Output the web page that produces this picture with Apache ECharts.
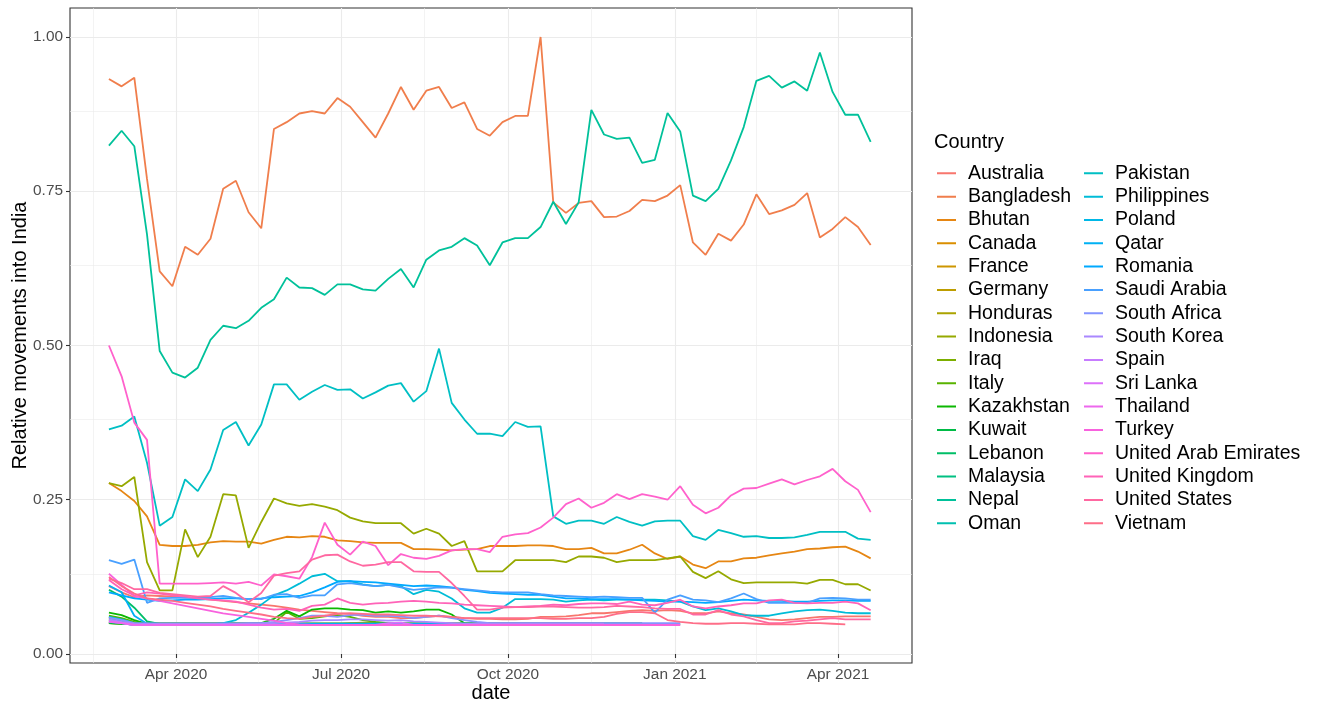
<!DOCTYPE html>
<html lang="en">
<head>
<meta charset="UTF-8">
<script src="https://cdn.jsdelivr.net/npm/echarts@6/dist/echarts.min.js"></script>
<title>Relative movements into India</title>
<style>
  html, body { margin: 0; padding: 0; background: #fff; }
  #main { width: 1323px; height: 702px; }
</style>
</head>
<body>
<div id="main"></div>
<script type="text/javascript">
// weekly observations, first week 2020-02-24, 61 weeks
var firstWeek = Date.UTC(2020, 1, 24);
var dates = [];
for (var w = 0; w < 61; w++) dates.push(firstWeek + w * 7 * 86400000);

var countries = ['Australia', 'Bangladesh', 'Bhutan', 'Canada', 'France', 'Germany', 'Honduras', 'Indonesia',
  'Iraq', 'Italy', 'Kazakhstan', 'Kuwait', 'Lebanon', 'Malaysia', 'Nepal', 'Oman',
  'Pakistan', 'Philippines', 'Poland', 'Qatar', 'Romania', 'Saudi Arabia', 'South Africa', 'South Korea',
  'Spain', 'Sri Lanka', 'Thailand', 'Turkey', 'United Arab Emirates', 'United Kingdom', 'United States', 'Vietnam'];

var australia = [0.110,0.100,0.092,0.095,0.094,0.093,0.092,0.090,0.088,0.086,0.084,0.082,0.080,0.078,0.075,0.072,0.070,0.068,0.066,
  0.065,0.062,0.060,0.060,0.058,0.058,0.060,0.062,0.060,0.058,0.057,0.057,0.056,0.056,0.057,0.060,0.060,0.061,0.063,0.066,0.066,0.068,
  0.070,0.071,0.070,0.071,0.070,0.066,0.066,0.069,0.066,0.064,0.060,0.056,0.055,0.056,0.058,0.060,0.060,0.061,0.061,0.061];
var bangladesh = [0.932,0.920,0.934,0.770,0.620,0.596,0.660,0.647,0.673,0.754,0.767,0.716,0.690,0.851,0.862,0.876,0.880,0.876,0.901,0.887,
  0.862,0.837,0.876,0.919,0.882,0.913,0.919,0.885,0.894,0.851,0.840,0.862,0.872,0.872,1.000,0.732,0.715,0.731,0.734,0.708,
  0.709,0.718,0.736,0.734,0.743,0.760,0.667,0.647,0.681,0.670,0.696,0.745,0.713,0.719,0.728,0.747,0.675,0.689,0.708,0.692,0.663];
var bhutan = [0.277,0.264,0.248,0.223,0.177,0.175,0.175,0.177,0.181,0.183,0.182,0.182,0.179,0.185,0.190,0.189,0.191,0.190,0.184,
  0.183,0.181,0.180,0.180,0.180,0.170,0.170,0.169,0.168,0.169,0.170,0.175,0.175,0.175,0.176,0.176,0.175,0.170,0.170,0.172,0.163,0.163,
  0.169,0.177,0.163,0.154,0.158,0.145,0.139,0.150,0.150,0.155,0.156,0.160,0.163,0.166,0.170,0.171,0.173,0.174,0.166,0.155];
var canada = [0.058,0.055,0.050,0.049,0.049,0.049,0.049,0.049,0.049,0.049,0.049,0.049,0.049,0.049,0.049,0.049,0.049,0.049,0.049,0.049,
  0.048,0.048,0.048,0.049,0.049,0.049,0.049,0.049,0.049,0.049,0.049,0.049,0.049,0.049,0.049,0.049,0.049,0.049,0.049,0.049,0.049,0.049,0.049];
var france = [0.055,0.052,0.049,0.049,0.049,0.049,0.049,0.049,0.049,0.049,0.049,0.049,0.049,0.049,0.049,0.049,0.049,0.049,0.049,0.049,
  0.049,0.049,0.049,0.049,0.049,0.049,0.049,0.049,0.049,0.049,0.049,0.049,0.049,0.049,0.049,0.049,0.049,0.049,0.049,0.049];
var germany = [0.052,0.050,0.049,0.048,0.048,0.048,0.048,0.048,0.048,0.048,0.048,0.048,0.048,0.048,0.048,0.048,0.048,0.048,0.048,0.050,
  0.051,0.051,0.049,0.048,0.048,0.048,0.048,0.048,0.048,0.048,0.048,0.048,0.048,0.048,0.048,0.048,0.048,0.048,0.048,0.048,0.048,0.048,0.048];
var honduras = [0.050,0.049,0.049,0.049,0.049,0.049,0.049,0.049,0.049,0.049,0.049,0.049,0.049,0.049,0.049,0.049,0.049,0.049,0.049,0.049,
  0.049,0.049,0.049,0.049,0.049,0.049,0.049,0.049,0.049,0.049];
var indonesia = [0.277,0.272,0.287,0.149,0.103,0.103,0.202,0.157,0.190,0.259,0.257,0.172,0.214,0.252,0.244,0.240,0.243,0.239,0.233,
  0.221,0.215,0.212,0.212,0.212,0.195,0.203,0.195,0.175,0.183,0.134,0.134,0.134,0.152,0.152,0.152,0.152,0.149,0.158,0.158,0.156,0.149,
  0.152,0.152,0.152,0.155,0.158,0.133,0.123,0.134,0.121,0.115,0.116,0.116,0.116,0.116,0.114,0.120,0.120,0.113,0.113,0.103];
var iraq = [0.050,0.049,0.048,0.048,0.048,0.048,0.048,0.048,0.048,0.048,0.048,0.048,0.048,0.048,0.048,0.048,0.048,0.048,0.048,0.048,
  0.048,0.048,0.048,0.048,0.048,0.048,0.048,0.048,0.048,0.048,0.048,0.048,0.048,0.048,0.048,0.048,0.048,0.048,0.048,0.048,0.048,0.048,0.048];
var italy = [0.062,0.058,0.052,0.049,0.049,0.049,0.049,0.049,0.049,0.049,0.049,0.049,0.049,0.050,0.068,0.057,0.058,0.061,0.063,0.060,
  0.055,0.052,0.050,0.049,0.049,0.049,0.049,0.049,0.049,0.049,0.049,0.049,0.049,0.049,0.049,0.049,0.049,0.049,0.049,0.049,0.049,0.049,0.049];
var kazakhstan = [0.067,0.063,0.055,0.049,0.049,0.049,0.049,0.049,0.049,0.049,0.049,0.049,0.050,0.057,0.070,0.061,0.072,0.074,0.074,
  0.072,0.071,0.067,0.069,0.067,0.069,0.072,0.072,0.064,0.050,0.049,0.049,0.049,0.049,0.049,0.049,0.049,0.049,0.049,0.049,0.049,0.049,0.049,0.049];
var kuwait = [0.050,0.049,0.048,0.048,0.048,0.048,0.048,0.048,0.048,0.048,0.048,0.048,0.048,0.048,0.048,0.048,0.048,0.048,0.048,0.048,
  0.048,0.048,0.048,0.048,0.048,0.048,0.048,0.048,0.048,0.048,0.048,0.048,0.048,0.048,0.048,0.048,0.048,0.048,0.048,0.048,
  0.048,0.048,0.048,0.048,0.048,0.048];
var lebanon = [0.104,0.093,0.075,0.053,0.049,0.049,0.049,0.049,0.049,0.049,0.049,0.049,0.049,0.049,0.049,0.049,0.049,0.049,0.049,0.049,
  0.049,0.049,0.049,0.049,0.049,0.049,0.049,0.049,0.049,0.049,0.049,0.049,0.049,0.049,0.049,0.049,0.049,0.049,0.049,0.049,0.049,0.049,0.049];
var malaysia = [0.060,0.055,0.049,0.048,0.048,0.048,0.048,0.048,0.048,0.048,0.048,0.048,0.048,0.048,0.048,0.048,0.048,0.048,0.048,0.048,
  0.048,0.048,0.048,0.048,0.048,0.048,0.048,0.048,0.048,0.048,0.048,0.048,0.048,0.048,0.048,0.048,0.048,0.048,0.048,0.048,0.048,0.048,0.048];
var nepal = [0.824,0.848,0.823,0.680,0.491,0.456,0.448,0.464,0.509,0.532,0.528,0.540,0.561,0.575,0.610,0.594,0.593,0.582,0.599,0.599,
  0.591,0.589,0.608,0.624,0.594,0.639,0.654,0.660,0.674,0.662,0.630,0.667,0.674,0.674,0.692,0.733,0.697,0.732,0.882,0.842,
  0.835,0.837,0.796,0.801,0.877,0.847,0.743,0.734,0.754,0.800,0.854,0.929,0.937,0.918,0.928,0.913,0.975,0.911,0.874,0.874,0.830];
var oman = [0.056,0.052,0.048,0.048,0.048,0.048,0.048,0.048,0.048,0.048,0.048,0.048,0.048,0.048,0.048,0.048,0.048,0.048,0.048,0.048,
  0.048,0.048,0.048,0.048,0.048,0.048,0.048,0.048,0.048,0.048,0.048,0.048,0.048,0.048,0.048,0.048,0.048,0.048,0.048,0.048,0.048,0.048,0.048];
var pakistan = [0.364,0.370,0.385,0.310,0.208,0.222,0.283,0.264,0.299,0.363,0.376,0.338,0.372,0.437,0.437,0.412,0.425,0.436,0.428,
  0.429,0.414,0.424,0.435,0.439,0.409,0.426,0.495,0.407,0.380,0.357,0.357,0.353,0.376,0.368,0.369,0.223,0.211,0.216,0.216,0.211,0.222,
  0.214,0.208,0.215,0.216,0.216,0.191,0.185,0.201,0.196,0.190,0.191,0.188,0.188,0.189,0.193,0.198,0.198,0.198,0.187,0.185];
var philippines = [0.060,0.056,0.050,0.049,0.048,0.048,0.048,0.048,0.048,0.050,0.055,0.067,0.080,0.095,0.103,0.114,0.126,0.130,0.118,
  0.118,0.113,0.110,0.112,0.110,0.097,0.104,0.101,0.090,0.074,0.067,0.067,0.075,0.089,0.089,0.089,0.088,0.085,0.087,0.088,0.087,0.088,
  0.088,0.088,0.088,0.087,0.085,0.077,0.071,0.074,0.069,0.063,0.062,0.062,0.066,0.069,0.071,0.072,0.070,0.067,0.066,0.066];
var poland = [0.052,0.050,0.047,0.047,0.047,0.047,0.047,0.047,0.047,0.047,0.047,0.047,0.047,0.047,0.047,0.047,0.047,0.047,0.047,0.047,
  0.047,0.047,0.047,0.047,0.047,0.047,0.047,0.047,0.047,0.047,0.047,0.047,0.047,0.047,0.047,0.047];
var qatar = [0.111,0.100,0.062,0.049,0.049,0.049,0.049,0.049,0.049,0.049,0.049,0.049,0.049,0.049,0.049,0.049,0.049,0.049,0.049,0.049,
  0.049,0.049,0.049,0.049,0.049,0.049,0.049,0.049,0.049,0.049,0.049,0.049,0.049,0.049,0.049,0.049,0.049,0.049,0.049,0.049,0.049,0.049,0.049];
var romania = [0.100,0.095,0.090,0.088,0.086,0.087,0.088,0.088,0.089,0.090,0.090,0.089,0.090,0.092,0.093,0.094,0.100,0.108,0.117,
  0.118,0.117,0.116,0.114,0.112,0.110,0.111,0.110,0.108,0.104,0.102,0.099,0.098,0.097,0.096,0.096,0.093,0.090,0.090,0.089,0.089,0.089,
  0.088,0.087,0.086,0.085,0.085,0.084,0.083,0.084,0.086,0.088,0.087,0.086,0.086,0.085,0.085,0.086,0.087,0.087,0.086,0.086];
var saudiArabia = [0.152,0.146,0.153,0.083,0.090,0.091,0.091,0.091,0.092,0.094,0.091,0.089,0.089,0.096,0.097,0.091,0.095,0.095,0.113,
  0.115,0.112,0.110,0.112,0.108,0.104,0.106,0.108,0.107,0.105,0.103,0.101,0.100,0.100,0.100,0.097,0.095,0.094,0.093,0.092,0.093,0.092,
  0.091,0.091,0.067,0.088,0.095,0.088,0.087,0.084,0.090,0.098,0.089,0.083,0.083,0.083,0.083,0.090,0.091,0.090,0.088,0.088];
var southAfrica = [0.059,0.055,0.050,0.049,0.049,0.049,0.049,0.049,0.049,0.049,0.049,0.050,0.050,0.052,0.055,0.058,0.062,0.062,0.060,0.063,
  0.064,0.062,0.062,0.061,0.058,0.060,0.062,0.058,0.055,0.052,0.050,0.050,0.050,0.050,0.050,0.050,0.050,0.050,0.050,0.050,
  0.050,0.050,0.050,0.050,0.050,0.050];
var southKorea = [0.056,0.052,0.049,0.049,0.049,0.049,0.049,0.049,0.049,0.049,0.049,0.049,0.049,0.050,0.051,0.052,0.054,0.055,0.055,0.056,
  0.056,0.055,0.054,0.055,0.053,0.052,0.051,0.050,0.049,0.049,0.049,0.049,0.049,0.049,0.049,0.049,0.049,0.049,0.049,0.049];
var spain = [0.054,0.051,0.047,0.047,0.047,0.047,0.047,0.047,0.047,0.047,0.047,0.047,0.047,0.047,0.047,0.047,0.047,0.047,0.047,0.047,
  0.047,0.047,0.047,0.047,0.047,0.047,0.047,0.047,0.047,0.047];
var sriLanka = [0.053,0.050,0.047,0.047,0.047,0.047,0.047,0.047,0.047,0.047,0.047,0.047,0.047,0.047,0.047,0.047,0.047,0.047,0.047,0.047,
  0.047,0.047,0.050,0.051,0.047,0.047,0.047,0.047,0.047,0.047];
var thailand = [0.052,0.050,0.047,0.047,0.047,0.047,0.047,0.047,0.047,0.047,0.047,0.047,0.047,0.047,0.047,0.047,0.047,0.047,0.047,0.047,
  0.047,0.047,0.047,0.047,0.047,0.047,0.047,0.047,0.047,0.047];
var turkey = [0.130,0.112,0.094,0.090,0.086,0.082,0.078,0.074,0.070,0.066,0.063,0.060,0.057,0.054,0.050,0.048,0.047,0.047,0.047,0.047,
  0.047,0.047,0.047,0.047,0.047,0.047,0.047,0.047,0.047,0.047,0.047,0.047,0.047,0.047,0.047,0.047,0.047,0.047,0.047,0.047,
  0.047,0.047,0.047,0.047,0.047,0.047];
var uae = [0.500,0.450,0.375,0.347,0.114,0.114,0.114,0.114,0.115,0.116,0.114,0.117,0.111,0.129,0.126,0.122,0.157,0.213,0.177,
  0.161,0.182,0.175,0.144,0.162,0.156,0.154,0.159,0.168,0.170,0.170,0.165,0.190,0.194,0.196,0.205,0.221,0.243,0.252,0.237,0.245,0.259,
  0.251,0.259,0.255,0.250,0.272,0.242,0.228,0.237,0.257,0.268,0.269,0.276,0.283,0.275,0.282,0.288,0.300,0.280,0.266,0.230];
var uk = [0.120,0.105,0.095,0.100,0.098,0.095,0.093,0.090,0.088,0.087,0.085,0.080,0.075,0.072,0.073,0.070,0.078,0.080,0.090,
  0.083,0.080,0.082,0.083,0.085,0.086,0.085,0.083,0.082,0.080,0.079,0.078,0.077,0.076,0.077,0.078,0.080,0.079,0.081,0.082,0.082,0.081,
  0.085,0.080,0.079,0.083,0.088,0.077,0.074,0.077,0.079,0.082,0.082,0.087,0.088,0.083,0.082,0.083,0.083,0.085,0.082,0.071];
var us = [0.122,0.115,0.105,0.105,0.099,0.097,0.095,0.093,0.094,0.110,0.099,0.084,0.099,0.127,0.131,0.134,0.153,0.160,0.161,
  0.150,0.143,0.145,0.149,0.149,0.134,0.133,0.133,0.115,0.094,0.072,0.072,0.075,0.076,0.076,0.077,0.077,0.076,0.075,0.075,0.076,0.078,
  0.077,0.076,0.074,0.073,0.073,0.064,0.064,0.071,0.064,0.061,0.055,0.050,0.050,0.053,0.054,0.056,0.058,0.056,0.056,0.056];
var vietnam = [0.125,0.110,0.098,0.090,0.088,0.086,0.083,0.080,0.077,0.073,0.070,0.067,0.064,0.060,0.058,0.057,0.060,0.062,0.065,
  0.066,0.065,0.064,0.064,0.063,0.062,0.062,0.061,0.060,0.058,0.058,0.058,0.058,0.058,0.058,0.058,0.057,0.057,0.058,0.058,0.060,0.065,
  0.068,0.068,0.066,0.055,0.052,0.050,0.049,0.049,0.050,0.050,0.049,0.048,0.048,0.048,0.050,0.050,0.049,0.048];

var values = [australia, bangladesh, bhutan, canada, france, germany, honduras, indonesia,
  iraq, italy, kazakhstan, kuwait, lebanon, malaysia, nepal, oman,
  pakistan, philippines, poland, qatar, romania, saudiArabia, southAfrica, southKorea,
  spain, sriLanka, thailand, turkey, uae, uk, us, vietnam];

var yTicks = [0, 0.25, 0.5, 0.75, 1];
var yMinor = [0.125, 0.375, 0.625, 0.875];
var xTicks = [Date.UTC(2020, 3, 1), Date.UTC(2020, 6, 1), Date.UTC(2020, 9, 1), Date.UTC(2021, 0, 1), Date.UTC(2021, 3, 1)];
var xMinor = [Date.UTC(2020, 1, 15, 12), Date.UTC(2020, 4, 16, 12), Date.UTC(2020, 7, 16), Date.UTC(2020, 10, 16), Date.UTC(2021, 1, 15)];
var monthNames = ['Jan', 'Feb', 'Mar', 'Apr', 'May', 'Jun', 'Jul', 'Aug', 'Sep', 'Oct', 'Nov', 'Dec'];

// ggplot2 default hue palette (polar LUV, c = 100, l = 65)
function hcl(h, c, l) {
    var WY = 100, Wu = 0.1978398, Wv = 0.4683363;
    var hr = h * Math.PI / 180;
    var U = c * Math.cos(hr), V = c * Math.sin(hr);
    var Y = WY * (l > 7.999592 ? Math.pow((l + 16) / 116, 3) : l / 903.3);
    var u = U / (13 * l) + Wu, v = V / (13 * l) + Wv;
    var X = 9 * Y * u / (4 * v);
    var Z = -X / 3 - 5 * Y + 3 * Y / v;
    function g(t) { return t > 0.00304 ? 1.055 * Math.pow(t, 1 / 2.4) - 0.055 : 12.92 * t; }
    function hx(t) {
        var n = Math.round(Math.max(0, Math.min(1, t)) * 255);
        return (n < 16 ? '0' : '') + n.toString(16);
    }
    var r = g((3.240479 * X - 1.537150 * Y - 0.498535 * Z) / WY);
    var gg = g((-0.969256 * X + 1.875992 * Y + 0.041556 * Z) / WY);
    var b = g((0.055648 * X - 0.204043 * Y + 1.057311 * Z) / WY);
    return '#' + hx(r) + hx(gg) + hx(b);
}
var palette = countries.map(function (c, i) { return hcl(15 + i * 360 / 32, 100, 65); });

var font = 'Liberation Sans, Arial, sans-serif';
var myChart = echarts.init(document.getElementById('main'), null, {renderer: 'canvas'});

// panel grid lines, drawn under the data
var gridLines = [];
yMinor.forEach(function (v) { gridLines.push({yAxis: v, lineStyle: {color: '#EBEBEB', width: 0.6, type: 'solid'}}); });
xMinor.forEach(function (v) { gridLines.push({xAxis: v, lineStyle: {color: '#EBEBEB', width: 0.6, type: 'solid'}}); });
yTicks.forEach(function (v) { gridLines.push({yAxis: v, lineStyle: {color: '#EBEBEB', width: 1.1, type: 'solid'}}); });
xTicks.forEach(function (v) { gridLines.push({xAxis: v, lineStyle: {color: '#EBEBEB', width: 1.1, type: 'solid'}}); });

var series = [{
    name: '_grid',
    type: 'line',
    data: [[dates[0], null]],
    silent: true,
    z: 0,
    symbol: 'none',
    markLine: {silent: true, z: 0, symbol: 'none', label: {show: false}, animation: false, data: gridLines}
}];
countries.forEach(function (name, i) {
    series.push({
        name: name,
        type: 'line',
        z: 3,
        color: palette[i],
        data: values[i].map(function (v, k) { return [dates[k], v]; }),
        showSymbol: false,
        symbol: 'none',
        lineStyle: {width: 1.8},
        emphasis: {disabled: true},
        animation: false
    });
});

var legendBase = {
    orient: 'vertical',
    top: 163.3,
    padding: 0,
    itemGap: 3.33,
    itemWidth: 26,
    itemHeight: 2,
    icon: 'path://M0,0H19V2H0ZM26,0L26,2',
    selectedMode: false,
    textStyle: {fontSize: 19.5, color: '#000', fontFamily: font, lineHeight: 20}
};

var option = {
    animation: false,
    title: {
        text: 'Country', left: 934, top: 132, padding: 0,
        textStyle: {fontSize: 20, fontWeight: 'normal', color: '#000', fontFamily: font}
    },
    legend: [
        Object.assign({}, legendBase, {left: 937, data: countries.slice(0, 16)}),
        Object.assign({}, legendBase, {left: 1084, data: countries.slice(16)})
    ],
    grid: {
        left: 70, top: 8, width: 842, height: 655,
        outerBoundsMode: 'none',
        show: true, borderColor: '#333333', borderWidth: 1.1, backgroundColor: '#fff'
    },
    xAxis: {
        type: 'value',
        min: Date.UTC(2020, 1, 2, 13),
        max: Date.UTC(2021, 4, 11, 19),
        name: 'date',
        nameLocation: 'middle',
        nameGap: 20,
        nameMoveOverlap: false,
        nameTextStyle: {fontSize: 20, color: '#000', fontFamily: font},
        axisLine: {show: false},
        splitLine: {show: false},
        axisTick: {show: true, customValues: xTicks, length: 4, lineStyle: {color: '#333333', width: 1.1}},
        axisLabel: {
            customValues: xTicks, margin: 4, fontSize: 15.4, color: '#4D4D4D', fontFamily: font,
            formatter: function (v) {
                var d = new Date(v);
                return monthNames[d.getUTCMonth()] + ' ' + d.getUTCFullYear();
            }
        }
    },
    yAxis: {
        type: 'value',
        min: -0.0146,
        max: 1.047,
        name: 'Relative movements into India',
        nameLocation: 'middle',
        nameGap: 40,
        nameMoveOverlap: false,
        nameTextStyle: {fontSize: 20, color: '#000', fontFamily: font},
        axisLine: {show: false},
        splitLine: {show: false},
        axisTick: {show: true, customValues: yTicks, length: 4, lineStyle: {color: '#333333', width: 1.1}},
        axisLabel: {
            customValues: yTicks, margin: 7, fontSize: 15.4, color: '#4D4D4D', fontFamily: font,
            formatter: function (v) { return v.toFixed(2); }
        }
    },
    series: series
};

myChart.setOption(option);
</script>
</body>
</html>
